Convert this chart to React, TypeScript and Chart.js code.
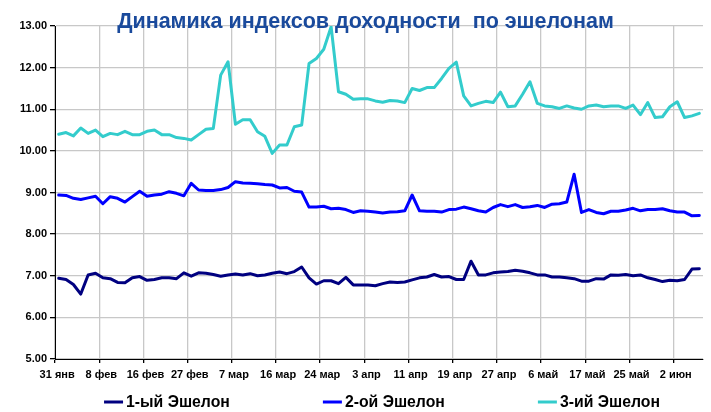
import React, { useEffect, useRef } from "react";
import { Chart, registerables } from "chart.js";

Chart.register(...registerables);

const TITLE = "Динамика индексов доходности  по эшелонам";
const TICK_LABELS = ["31 янв", "8 фев", "16 фев", "27 фев", "7 мар", "16 мар", "24 мар", "3 апр", "11 апр", "19 апр", "27 апр", "6 май", "17 май", "25 май", "2 июн"];
const POINTS_PER_TICK = 6;
const N_POINTS = 88;

const SERIES1_NAME = "1-ый Эшелон";
const SERIES2_NAME = "2-ой Эшелон";
const SERIES3_NAME = "3-ий Эшелон";

const echelon1 = [
  6.94, 6.91, 6.79, 6.56, 7.02, 7.06, 6.95, 6.93, 6.84, 6.83,
  6.95, 6.98, 6.89, 6.91, 6.95, 6.95, 6.93, 7.07, 6.99, 7.07,
  7.06, 7.03, 6.99, 7.02, 7.04, 7.02, 7.05, 7.00, 7.02, 7.06,
  7.09, 7.05, 7.10, 7.21, 6.95, 6.80, 6.88, 6.88, 6.81, 6.96,
  6.78, 6.78, 6.78, 6.76, 6.81, 6.85, 6.84, 6.85, 6.90, 6.95,
  6.97, 7.03, 6.97, 6.98, 6.91, 6.91, 7.35, 7.02, 7.02, 7.07,
  7.09, 7.10, 7.13, 7.11, 7.07, 7.02, 7.02, 6.97, 6.97, 6.95,
  6.93, 6.87, 6.87, 6.93, 6.92, 7.02, 7.01, 7.03, 7.00, 7.02,
  6.95, 6.91, 6.86, 6.89, 6.88, 6.91, 7.16, 7.17,
];

const echelon2 = [
  8.94, 8.93, 8.86, 8.83, 8.87, 8.91, 8.73, 8.90, 8.86, 8.77,
  8.90, 9.03, 8.91, 8.94, 8.96, 9.02, 8.98, 8.92, 9.22, 9.06,
  9.05, 9.05, 9.07, 9.12, 9.26, 9.23, 9.22, 9.21, 9.19, 9.18,
  9.11, 9.12, 9.03, 9.01, 8.65, 8.65, 8.67, 8.61, 8.62, 8.59,
  8.52, 8.56, 8.55, 8.53, 8.51, 8.53, 8.54, 8.56, 8.94, 8.56,
  8.55, 8.55, 8.53, 8.59, 8.60, 8.65, 8.61, 8.56, 8.53, 8.64,
  8.71, 8.66, 8.71, 8.64, 8.66, 8.69, 8.64, 8.72, 8.73, 8.77,
  9.44, 8.52, 8.59, 8.52, 8.49, 8.55, 8.55, 8.58, 8.62, 8.56,
  8.59, 8.59, 8.61, 8.56, 8.53, 8.53, 8.44, 8.45,
];

const echelon3 = [
  10.40, 10.44, 10.36, 10.55, 10.42, 10.50, 10.34, 10.42, 10.39, 10.47,
  10.39, 10.39, 10.47, 10.50, 10.39, 10.39, 10.32, 10.30, 10.26, 10.39,
  10.52, 10.54, 11.82, 12.14, 10.64, 10.75, 10.75, 10.46, 10.35, 9.94,
  10.14, 10.14, 10.58, 10.62, 12.10, 12.22, 12.44, 12.98, 11.42, 11.36,
  11.24, 11.25, 11.25, 11.20, 11.17, 11.21, 11.20, 11.16, 11.50, 11.45,
  11.52, 11.52, 11.74, 11.98, 12.13, 11.32, 11.08, 11.14, 11.19, 11.16,
  11.41, 11.06, 11.08, 11.36, 11.66, 11.14, 11.08, 11.06, 11.02, 11.08,
  11.03, 11.00, 11.08, 11.10, 11.06, 11.08, 11.08, 11.02, 11.10, 10.87,
  11.16, 10.80, 10.82, 11.06, 11.18, 10.80, 10.84, 10.90,
];

const COLOR1 = "#000080";
const COLOR2 = "#0000FF";
const COLOR3 = "#33CCCC";

const FONT_FAMILY = '"Liberation Sans", Arial, sans-serif';

const categories = Array.from({ length: N_POINTS }, (_, i) =>
  i % POINTS_PER_TICK === 0 ? TICK_LABELS[i / POINTS_PER_TICK] ?? "" : ""
);

const titleAndLegendPlugin = {
  id: "titleAndLegend",
  afterDraw(chart: any) {
    const ctx = chart.ctx;
    const area = chart.chartArea;
    ctx.save();
    // title
    ctx.font = `bold 21.5px ${FONT_FAMILY}`;
    ctx.fillStyle = "#1A4A9C";
    ctx.textAlign = "center";
    ctx.textBaseline = "alphabetic";
    ctx.fillText(TITLE, 365.5, 27.5);

    // legend
    const items = chart.data.datasets.map((d: any) => ({ label: d.label, color: d.borderColor }));
    ctx.font = `bold 15.8px ${FONT_FAMILY}`;
    const markerW = 19;
    const markerGap = 3;
    const itemGap = 93;
    const widths = items.map((it: any) => markerW + markerGap + ctx.measureText(it.label).width);
    const total = widths.reduce((a: number, b: number) => a + b, 0) + itemGap * (items.length - 1);
    let x = (area.left + area.right) / 2 + 3 - total / 2;
    const y = 402;
    items.forEach((it: any, i: number) => {
      ctx.strokeStyle = it.color;
      ctx.lineWidth = 3;
      ctx.beginPath();
      ctx.moveTo(x, y);
      ctx.lineTo(x + markerW, y);
      ctx.stroke();
      ctx.fillStyle = "#000";
      ctx.textAlign = "left";
      ctx.textBaseline = "middle";
      ctx.fillText(it.label, x + markerW + markerGap, y + 1);
      x += widths[i] + itemGap;
    });
    ctx.restore();
  },
};

export default function App() {
  const canvasRef = useRef<HTMLCanvasElement | null>(null);

  useEffect(() => {
    document.body.style.margin = "0";
    const canvas = canvasRef.current;
    if (!canvas) return;
    const tickFont = { family: FONT_FAMILY, size: 11, weight: "bold" as const };
    const mk = (label: string, data: number[], color: string) => ({
      label,
      data,
      borderColor: color,
      backgroundColor: color,
      borderWidth: 3,
      pointRadius: 0,
      pointHoverRadius: 0,
      tension: 0,
      fill: false,
      borderJoinStyle: "round" as const,
      borderCapStyle: "round" as const,
    });
    const chart = new Chart(canvas, {
      type: "line",
      data: {
        labels: categories,
        datasets: [
          mk(SERIES1_NAME, echelon1, COLOR1),
          mk(SERIES2_NAME, echelon2, COLOR2),
          mk(SERIES3_NAME, echelon3, COLOR3),
        ],
      },
      options: {
        animation: false,
        responsive: true,
        maintainAspectRatio: false,
        layout: { padding: { left: 0, right: 8, top: 26, bottom: 28 } },
        plugins: {
          legend: { display: false },
          title: { display: false },
          tooltip: { enabled: false },
        },
        scales: {
          x: {
            type: "category",
            offset: true,
            afterFit: (scale: any) => {
              scale.height = 25;
            },
            grid: {
              offset: true,
              color: (c: any) =>
                c.index % POINTS_PER_TICK === 0 && c.index < N_POINTS ? "#c8c8c8" : "rgba(0,0,0,0)",
              tickColor: (c: any) =>
                c.index % POINTS_PER_TICK === 0 && c.index < N_POINTS ? "#000" : "rgba(0,0,0,0)",
              lineWidth: 1.3,
              tickLength: 4,
            },
            border: { color: "#000", width: 1 },
            ticks: {
              autoSkip: false,
              maxRotation: 0,
              minRotation: 0,
              labelOffset: -1.5,
              padding: 5,
              color: "#000",
              font: tickFont,
              callback: (_v: any, i: number) => categories[i],
            },
          },
          y: {
            min: 5,
            max: 13,
            afterFit: (scale: any) => {
              scale.width = 55;
            },
            grid: { color: "#c8c8c8", lineWidth: 1.3, tickColor: "#000", tickLength: 5 },
            border: { color: "#000", width: 1 },
            ticks: {
              stepSize: 1,
              color: "#000",
              font: tickFont,
              padding: 3,
              callback: (v: any) => Number(v).toFixed(2),
            },
          },
        },
      },
      plugins: [titleAndLegendPlugin],
    });
    return () => chart.destroy();
  }, []);

  return (
    <div style={{ position: "relative", width: 711, height: 412 }}>
      <canvas ref={canvasRef} />
    </div>
  );
}
